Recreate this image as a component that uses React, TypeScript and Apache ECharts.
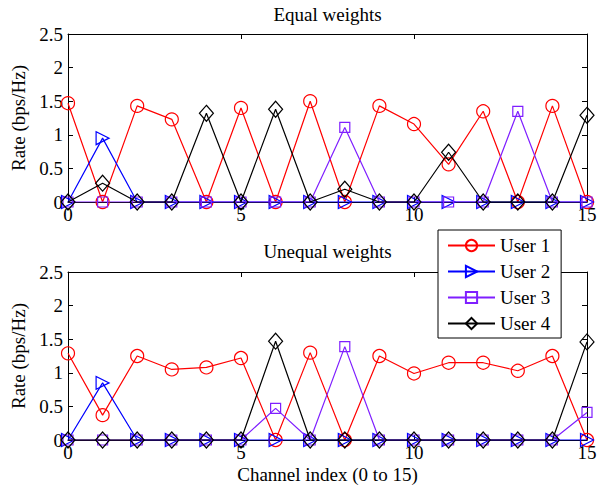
import React, { useEffect, useRef } from "react";
import * as echarts from "echarts";

const channels = [0, 1, 2, 3, 4, 5, 6, 7, 8, 9, 10, 11, 12, 13, 14, 15];
const userNames = ["User 1", "User 2", "User 3", "User 4"];

const eqUser1 = [1.47, 0, 1.43, 1.23, 0, 1.40, 0, 1.50, 0, 1.43, 1.16, 0.56, 1.35, 0, 1.43, 0];
const eqUser2 = [0, 0.95, 0, 0, 0, 0, 0, 0, 0, 0, 0, 0, 0, 0, 0, 0];
const eqUser3 = [0, 0, 0, 0, 0, 0, 0, 0, 1.11, 0, 0, 0, 0, 1.35, 0, 0];
const eqUser4 = [0, 0.28, 0, 0, 1.32, 0, 1.38, 0, 0.19, 0, 0, 0.74, 0, 0, 0, 1.29];

const uqUser1 = [1.29, 0.37, 1.25, 1.05, 1.08, 1.22, 0, 1.30, 0, 1.25, 0.99, 1.15, 1.15, 1.03, 1.25, 0];
const uqUser2 = [0, 0.85, 0, 0, 0, 0, 0, 0, 0, 0, 0, 0, 0, 0, 0, 0];
const uqUser3 = [0, 0, 0, 0, 0, 0, 0.47, 0, 1.39, 0, 0, 0, 0, 0, 0, 0.41];
const uqUser4 = [0, 0, 0, 0, 0, 0, 1.47, 0, 0, 0, 0, 0, 0, 0, 0, 1.46];

const titles = ["Equal weights", "Unequal weights"];
const yTicks = [0, 0.5, 1, 1.5, 2, 2.5];

const FONT = "Liberation Serif";
const FS = 19;
const colors = ["#ff0000", "#0000ff", "#7f1fff", "#000000"];
const symbols = ["circle", "triangle", "rect", "diamond"];
const symbolSizes: any[] = [13, 13, 10, [14, 16]];
const rotates = [0, -90, 0, 0];

export default function App() {
  const ref = useRef<HTMLDivElement>(null);
  useEffect(() => {
    document.body.style.margin = "0";
    if (!ref.current) return;
    const chart = echarts.init(ref.current, null, { renderer: "svg" });
    const grids = [
      { left: 68, right: 23, top: 34, height: 168 },
      { left: 68, right: 23, top: 272, height: 168 },
    ];
    const axisLine = { show: true, onZero: false, lineStyle: { color: "#000", width: 1 } };
    const axisTick = { show: true, inside: true, length: 5, lineStyle: { color: "#000" } };
    const xAxes: any[] = [];
    const yAxes: any[] = [];
    grids.forEach((_, gi) => {
      xAxes.push({
        type: "value",
        gridIndex: gi,
        min: 0,
        max: 15,
        interval: 5,
        position: "bottom",
        axisLine,
        axisTick,
        axisLabel: { color: "#000", fontFamily: FONT, fontSize: FS, margin: 3 },
        splitLine: { show: false },
        name: gi === 1 ? "Channel index (0 to 15)" : "",
        nameLocation: "middle",
        nameGap: 25,
        nameTextStyle: { color: "#000", fontFamily: FONT, fontSize: FS },
      });
      xAxes.push({
        type: "value",
        gridIndex: gi,
        min: 0,
        max: 15,
        interval: 5,
        position: "top",
        axisLine,
        axisTick,
        axisLabel: { show: false },
        splitLine: { show: false },
      });
      yAxes.push({
        type: "value",
        gridIndex: gi,
        min: 0,
        max: 2.5,
        interval: 0.5,
        position: "left",
        axisLine,
        axisTick,
        axisLabel: {
          color: "#000",
          fontFamily: FONT,
          fontSize: FS,
          margin: 5,
          formatter: (v: number) => (yTicks.includes(v) ? String(v) : ""),
        },
        splitLine: { show: false },
        name: "Rate (bps/Hz)",
        nameLocation: "middle",
        nameGap: 31,
        nameTextStyle: { color: "#000", fontFamily: FONT, fontSize: FS },
      });
      yAxes.push({
        type: "value",
        gridIndex: gi,
        min: 0,
        max: 2.5,
        interval: 0.5,
        position: "right",
        axisLine,
        axisTick,
        axisLabel: { show: false },
        splitLine: { show: false },
      });
    });

    const data = [
      [eqUser1, eqUser2, eqUser3, eqUser4],
      [uqUser1, uqUser2, uqUser3, uqUser4],
    ];
    const series: any[] = [];
    data.forEach((set, gi) => {
      set.forEach((vals, ui) => {
        series.push({
          type: "line",
          name: userNames[ui],
          xAxisIndex: gi * 2,
          yAxisIndex: gi * 2,
          data: channels.map((c, i) => [c, vals[i]]),
          symbol: symbols[ui],
          symbolSize: symbolSizes[ui],
          symbolRotate: rotates[ui],
          showAllSymbol: true,
          z: 2 + ui,
          lineStyle: { color: colors[ui], width: 1.2 },
          itemStyle: { color: "rgba(255,255,255,0)", borderColor: colors[ui], borderWidth: 1.2 },
          emphasis: { disabled: true },
        });
      });
    });

    const titleY = [14, 251];
    chart.setOption({
      animation: false,
      backgroundColor: "#fff",
      graphic: titles.map((t, i) => ({
        type: "text",
        x: 327.5,
        y: titleY[i],
        z: 10,
        style: {
          text: t,
          fill: "#000",
          font: `${FS}px "${FONT}"`,
          textAlign: "center",
          textVerticalAlign: "middle",
        },
      })),
      legend: {
        data: userNames,
        orient: "vertical",
        left: 438,
        top: 230,
        padding: [6, 11, 5, 9],
        itemGap: 7,
        itemWidth: 47,
        itemHeight: 14,
        backgroundColor: "#fff",
        borderColor: "#000",
        borderWidth: 1,
        borderRadius: 0,
        z: 20,
        textStyle: { color: "#000", fontFamily: FONT, fontSize: FS },
      },
      grid: grids,
      xAxis: xAxes,
      yAxis: yAxes,
      series,
    });
    return () => chart.dispose();
  }, []);
  return <div ref={ref} style={{ width: 610, height: 487 }} />;
}
